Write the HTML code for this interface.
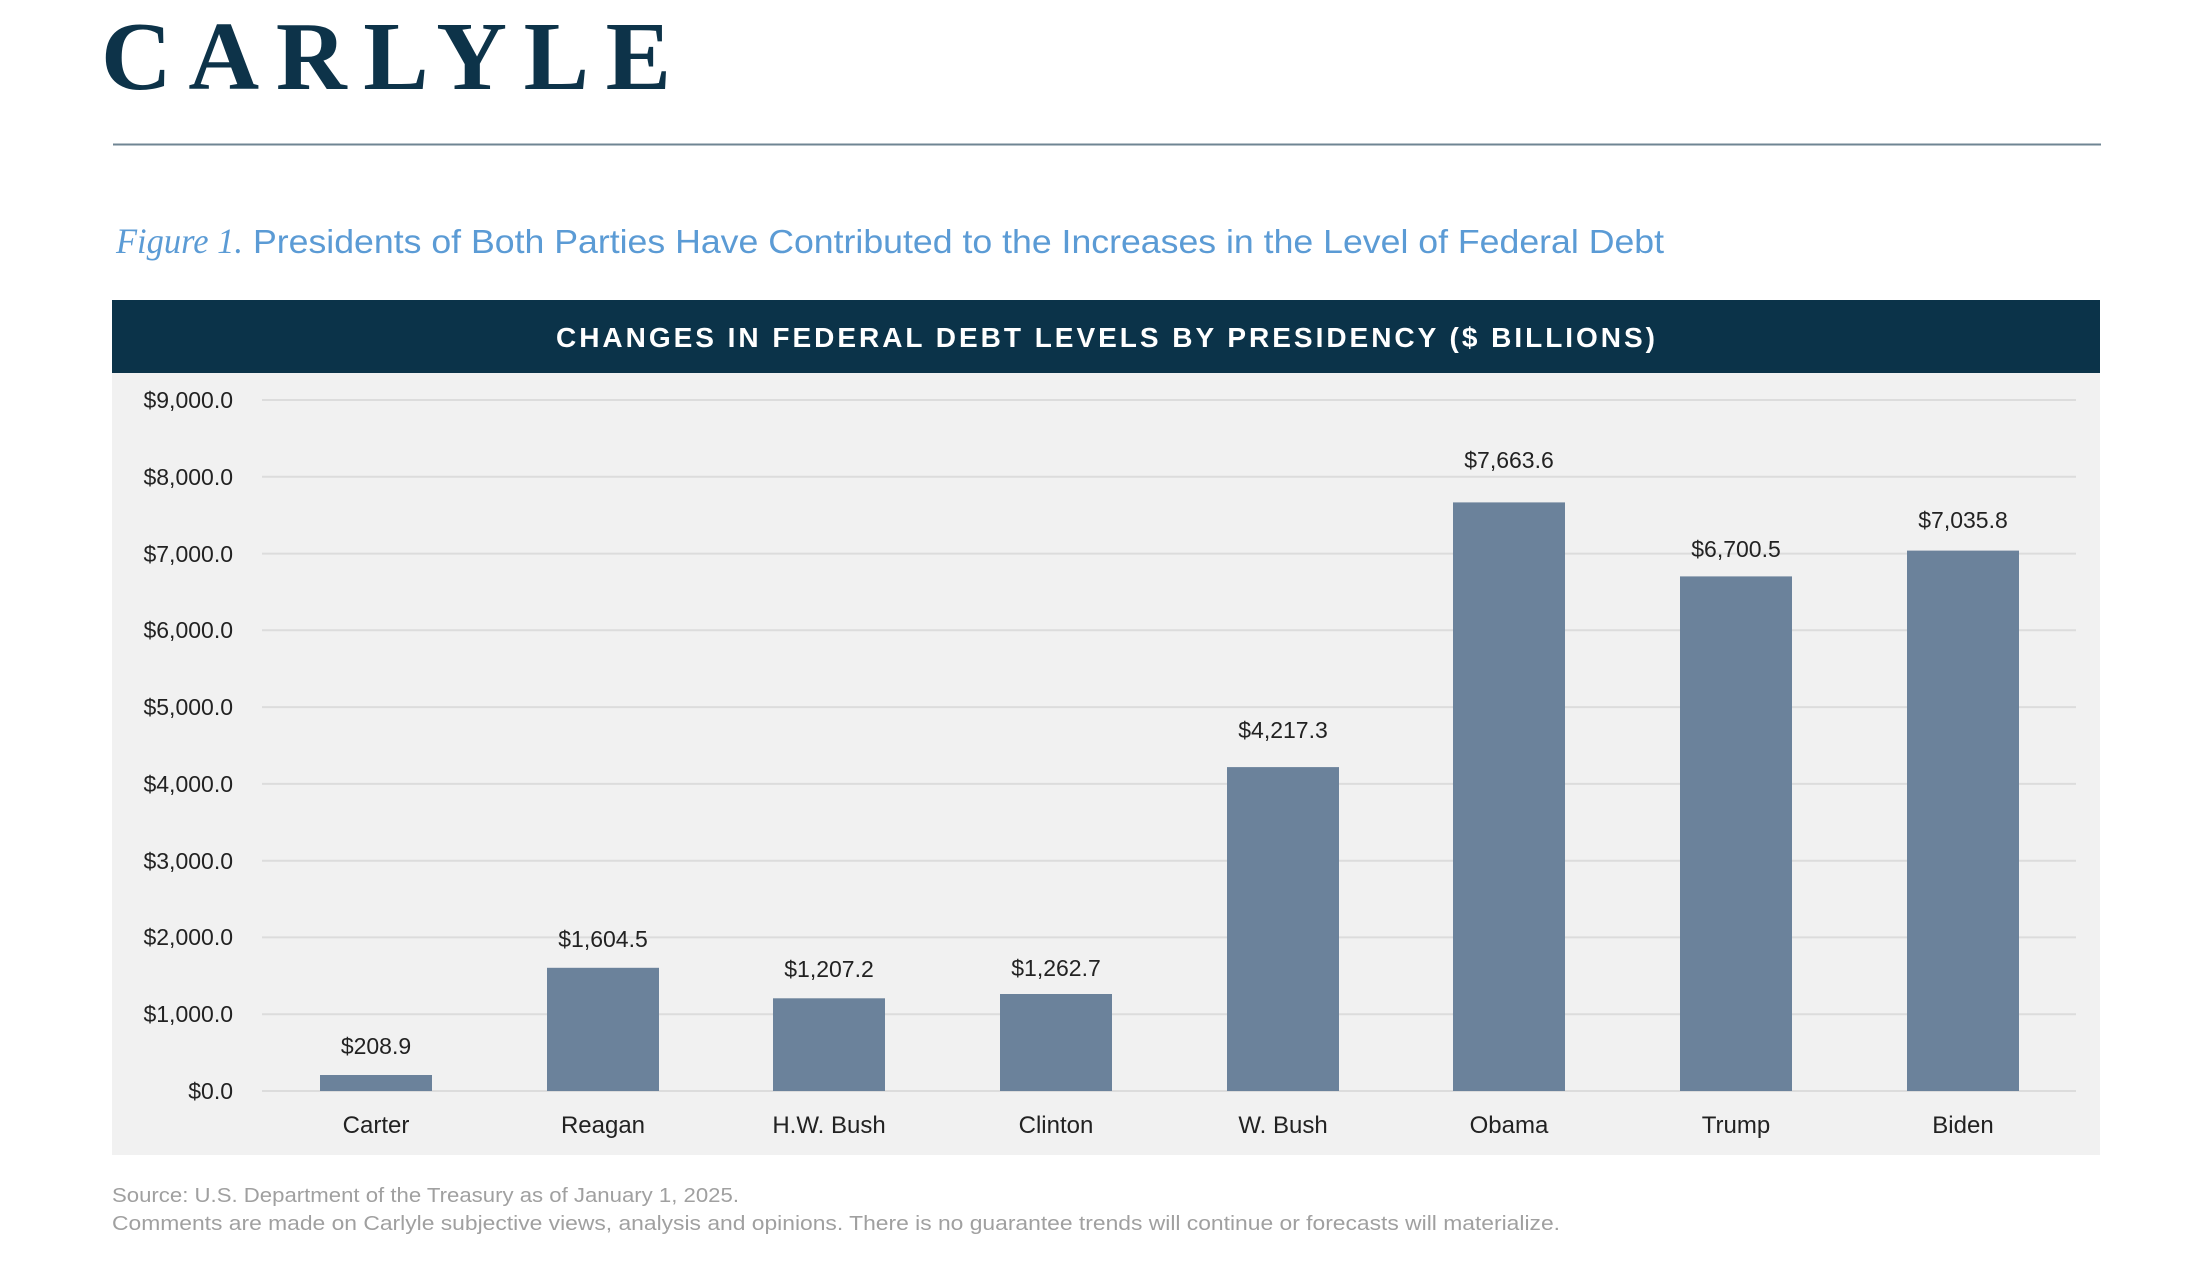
<!DOCTYPE html>
<html><head><meta charset="utf-8"><style>
html,body{margin:0;padding:0;background:#fff;}
svg{display:block;}
</style></head><body>
<svg width="2189" height="1281" viewBox="0 0 2189 1281" xmlns="http://www.w3.org/2000/svg">
<rect width="2189" height="1281" fill="#fff"/>
<text x="101" y="89" font-family="Liberation Serif, serif" font-weight="bold" font-size="98" fill="#0d3349" textLength="570" lengthAdjust="spacing">CARLYLE</text>
<line x1="113" y1="144.5" x2="2101" y2="144.5" stroke="#6f8593" stroke-width="2"/>
<text x="116" y="253" font-family="Liberation Serif, serif" font-style="italic" font-size="36" fill="#5b9bd5" textLength="127" lengthAdjust="spacingAndGlyphs">Figure 1.</text>
<text x="253" y="253" font-family="Liberation Sans, sans-serif" font-size="33" fill="#5b9bd5" textLength="1411" lengthAdjust="spacingAndGlyphs">Presidents of Both Parties Have Contributed to the Increases in the Level of Federal Debt</text>
<rect x="112" y="300" width="1988" height="73" fill="#0b3349"/>
<text x="556" y="347" font-family="Liberation Sans, sans-serif" font-weight="bold" font-size="28" fill="#fff" textLength="1099" lengthAdjust="spacing">CHANGES IN FEDERAL DEBT LEVELS BY PRESIDENCY ($ BILLIONS)</text>
<rect x="112" y="373" width="1988" height="782" fill="#f1f1f1"/>
<g stroke="#dcdcdc" stroke-width="2">
<line x1="262" x2="2076" y1="400" y2="400"/><line x1="262" x2="2076" y1="476.8" y2="476.8"/>
<line x1="262" x2="2076" y1="553.6" y2="553.6"/><line x1="262" x2="2076" y1="630.3" y2="630.3"/>
<line x1="262" x2="2076" y1="707.1" y2="707.1"/><line x1="262" x2="2076" y1="783.9" y2="783.9"/>
<line x1="262" x2="2076" y1="860.7" y2="860.7"/><line x1="262" x2="2076" y1="937.4" y2="937.4"/>
<line x1="262" x2="2076" y1="1014.2" y2="1014.2"/><line x1="262" x2="2076" y1="1091" y2="1091"/>
</g>
<g font-family="Liberation Sans, sans-serif" font-size="23" fill="#222" text-anchor="end">
<text x="233" y="408">$9,000.0</text><text x="233" y="485">$8,000.0</text>
<text x="233" y="562">$7,000.0</text><text x="233" y="638">$6,000.0</text>
<text x="233" y="715">$5,000.0</text><text x="233" y="792">$4,000.0</text>
<text x="233" y="869">$3,000.0</text><text x="233" y="945">$2,000.0</text>
<text x="233" y="1022">$1,000.0</text><text x="233" y="1099">$0.0</text>
</g>
<g fill="#6b829b">
<rect x="320" y="1075" width="112" height="16"/>
<rect x="547" y="967.8" width="112" height="123.2"/>
<rect x="773" y="998.3" width="112" height="92.7"/>
<rect x="1000" y="994" width="112" height="97"/>
<rect x="1227" y="767.1" width="112" height="323.9"/>
<rect x="1453" y="502.4" width="112" height="588.6"/>
<rect x="1680" y="576.4" width="112" height="514.6"/>
<rect x="1907" y="550.6" width="112" height="540.4"/>
</g>
<g font-family="Liberation Sans, sans-serif" font-size="23" fill="#222" text-anchor="middle">
<text x="376" y="1054">$208.9</text><text x="603" y="947">$1,604.5</text>
<text x="829" y="977">$1,207.2</text><text x="1056" y="976">$1,262.7</text>
<text x="1283" y="738">$4,217.3</text><text x="1509" y="468">$7,663.6</text>
<text x="1736" y="557">$6,700.5</text><text x="1963" y="528">$7,035.8</text>
</g>
<g font-family="Liberation Sans, sans-serif" font-size="24" fill="#222" text-anchor="middle">
<text x="376" y="1133">Carter</text><text x="603" y="1133">Reagan</text>
<text x="829" y="1133">H.W. Bush</text><text x="1056" y="1133">Clinton</text>
<text x="1283" y="1133">W. Bush</text><text x="1509" y="1133">Obama</text>
<text x="1736" y="1133">Trump</text><text x="1963" y="1133">Biden</text>
</g>
<g font-family="Liberation Sans, sans-serif" font-size="20" fill="#a0a0a0">
<text x="112" y="1202" textLength="627" lengthAdjust="spacingAndGlyphs">Source: U.S. Department of the Treasury as of January 1, 2025.</text>
<text x="112" y="1230" textLength="1448" lengthAdjust="spacingAndGlyphs">Comments are made on Carlyle subjective views, analysis and opinions. There is no guarantee trends will continue or forecasts will materialize.</text>
</g>
</svg>
</body></html>
